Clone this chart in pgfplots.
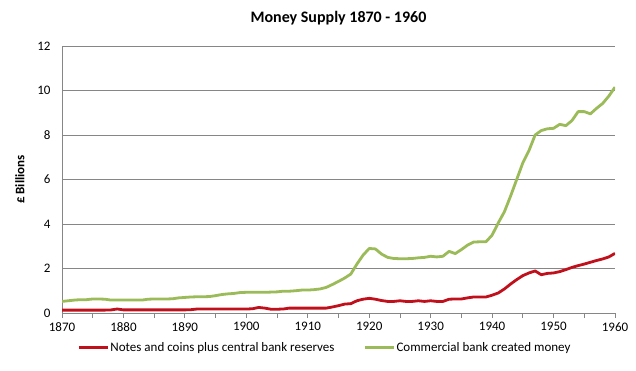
\documentclass[border=0pt]{standalone}
\usepackage{pgfplots}
\pgfplotsset{compat=1.18}
\usepackage{pgfplotstable}
\usepackage{fontspec}
\setmainfont{Carlito}
\definecolor{cbred}{RGB}{192,16,28}
\definecolor{cbgreen}{RGB}{155,187,89}
\definecolor{gridgray}{RGB}{134,134,134}

\pgfplotstableread{
year notes
1870 0.13
1871 0.13
1872 0.13
1873 0.13
1874 0.13
1875 0.13
1876 0.13
1877 0.13
1878 0.14
1879 0.18
1880 0.14
1881 0.14
1882 0.14
1883 0.14
1884 0.14
1885 0.14
1886 0.14
1887 0.14
1888 0.14
1889 0.14
1890 0.14
1891 0.15
1892 0.18
1893 0.18
1894 0.18
1895 0.18
1896 0.18
1897 0.18
1898 0.18
1899 0.18
1900 0.18
1901 0.19
1902 0.25
1903 0.22
1904 0.17
1905 0.17
1906 0.18
1907 0.22
1908 0.22
1909 0.22
1910 0.22
1911 0.22
1912 0.22
1913 0.22
1914 0.27
1915 0.33
1916 0.40
1917 0.42
1918 0.55
1919 0.62
1920 0.66
1921 0.62
1922 0.56
1923 0.52
1924 0.52
1925 0.55
1926 0.52
1927 0.52
1928 0.55
1929 0.52
1930 0.55
1931 0.52
1932 0.52
1933 0.62
1934 0.63
1935 0.63
1936 0.68
1937 0.72
1938 0.72
1939 0.72
1940 0.80
1941 0.90
1942 1.08
1943 1.30
1944 1.50
1945 1.68
1946 1.80
1947 1.89
1948 1.72
1949 1.78
1950 1.80
1951 1.86
1952 1.95
1953 2.05
1954 2.13
1955 2.20
1956 2.28
1957 2.36
1958 2.43
1959 2.52
1960 2.68
}\notes

\pgfplotstableread{
year commercial
1870 0.52
1871 0.55
1872 0.58
1873 0.60
1874 0.60
1875 0.63
1876 0.63
1877 0.62
1878 0.58
1879 0.58
1880 0.58
1881 0.58
1882 0.58
1883 0.58
1884 0.62
1885 0.63
1886 0.63
1887 0.63
1888 0.64
1889 0.68
1890 0.70
1891 0.72
1892 0.73
1893 0.73
1894 0.74
1895 0.78
1896 0.83
1897 0.86
1898 0.88
1899 0.92
1900 0.93
1901 0.93
1902 0.93
1903 0.93
1904 0.94
1905 0.95
1906 0.98
1907 0.98
1908 1.00
1909 1.03
1910 1.03
1911 1.05
1912 1.08
1913 1.15
1914 1.28
1915 1.42
1916 1.57
1917 1.75
1918 2.20
1919 2.60
1920 2.90
1921 2.88
1922 2.65
1923 2.50
1924 2.45
1925 2.44
1926 2.44
1927 2.45
1928 2.48
1929 2.50
1930 2.55
1931 2.52
1932 2.55
1933 2.77
1934 2.67
1935 2.85
1936 3.05
1937 3.19
1938 3.20
1939 3.20
1940 3.50
1941 4.05
1942 4.55
1943 5.25
1944 6.00
1945 6.75
1946 7.30
1947 8.00
1948 8.20
1949 8.28
1950 8.30
1951 8.48
1952 8.42
1953 8.65
1954 9.05
1955 9.05
1956 8.95
1957 9.20
1958 9.42
1959 9.75
1960 10.15
}\commercial

\begin{document}
\begin{tikzpicture}
\useasboundingbox (0,0) rectangle (636pt,370pt);
\begin{axis}[
  at={(62pt,57pt)}, anchor=south west,
  scale only axis, width=553pt, height=267pt,
  xmin=1870, xmax=1960, ymin=0, ymax=12,
  xtick={1870,1880,...,1960},
  minor xtick={1875,1885,...,1955},
  ytick={0,2,...,12},
  x tick label style={/pgf/number format/1000 sep={}},
  /pgf/number format/assume math mode=true,
  tick label style={font=\fontsize{13}{13}\selectfont, color=black},
  ymajorgrids, grid style={gridgray, line width=0.8pt},
  axis x line*=bottom, axis y line*=left,
  axis line style={gridgray, line width=0.8pt},
  major tick style={gridgray, line width=0.8pt},
  minor tick style={gridgray, line width=0.8pt},
  tick align=outside, major tick length=5pt, minor tick length=5pt,
  ytick style={draw=none},
  yticklabel style={xshift=-3pt},
  xticklabel style={yshift=-1pt},
  title={Money Supply 1870 - 1960},
  title style={font=\fontsize{16}{16}\selectfont\bfseries, at={(0.5,1)}, yshift=11pt},
  ylabel={£ Billions},
  ylabel style={font=\fontsize{13}{13}\selectfont\bfseries, at={(ticklabel cs:0.5)}, yshift=6pt},
  legend columns=2,
  legend style={draw=none, at={(0.5,-0.095)}, anchor=north, xshift=-14pt,
    font=\fontsize{13}{13}\selectfont,
    nodes={inner xsep=1pt},
    /tikz/every even column/.append style={column sep=28pt}},
  legend image code/.code={\draw[#1, line width=3pt] (0pt,0pt) -- (29pt,0pt);},
  every axis plot/.append style={line width=2.8pt, line join=round},
]
\addplot[cbred] table[x=year, y=notes] {\notes};
\addlegendentry{Notes and coins plus central bank reserves}
\addplot[cbgreen] table[x=year, y=commercial] {\commercial};
\addlegendentry{Commercial bank created money}
\end{axis}
\end{tikzpicture}
\end{document}
